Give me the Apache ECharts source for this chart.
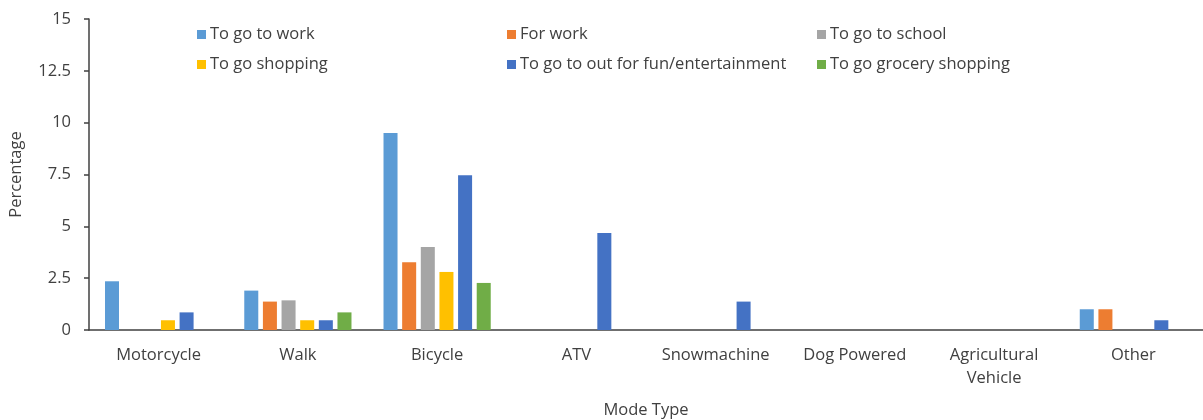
<!DOCTYPE html>
<html><head><meta charset="utf-8">
<script src="https://cdn.jsdelivr.net/npm/echarts@6/dist/echarts.min.js"></script>
<style>html,body{margin:0;padding:0;background:#fff}#c{width:1203px;height:420px}</style>
</head><body><div id="c"></div>
<script>
const categories = ['Motorcycle','Walk','Bicycle','ATV','Snowmachine','Dog Powered','Agricultural\nVehicle','Other'];
const seriesNames = ['To go to work','For work','To go to school','To go shopping','To go to out for fun/entertainment','To go grocery shopping'];
const toGoToWork   = [2.35, 1.9, 9.5, 0, 0, 0, 0, 1.0];
const forWork      = [0, 1.37, 3.27, 0, 0, 0, 0, 1.0];
const toGoToSchool = [0, 1.43, 4.0, 0, 0, 0, 0, 0];
const toGoShopping = [0.47, 0.47, 2.8, 0, 0, 0, 0, 0];
const funEntertain = [0.85, 0.47, 7.46, 4.68, 1.37, 0, 0, 0.47];
const grocery      = [0, 0.85, 2.27, 0, 0, 0, 0, 0];
const yTicks = [0, 2.5, 5, 7.5, 10, 12.5, 15];

const values = [toGoToWork, forWork, toGoToSchool, toGoShopping, funEntertain, grocery];
const colors = ['#5B9BD5','#ED7D31','#A5A5A5','#FFC000','#4472C4','#70AD47'];
const font = "'Open Sans','Noto Sans',sans-serif";
const legendPos = [[197,26],[507,26],[817,26],[197,56],[507,56],[817,56]];
const fs = 16.5;

const chart = echarts.init(document.getElementById('c'));
chart.setOption({
  animation: false,
  textStyle: {fontFamily: font},
  color: colors,
  legend: seriesNames.map((n,i)=>({
    data:[n], left: legendPos[i][0], top: legendPos[i][1], padding: 0,
    itemWidth: 9, itemHeight: 9, itemGap: 4, icon: 'rect',
    textStyle: {fontFamily: font, fontSize: fs, color: '#404040', padding:[0,0,0,-1]}
  })),
  grid: {left: 89, right: 0, top: 19, bottom: 90, outerBoundsMode: 'none'},
  xAxis: {
    type: 'category', data: categories,
    name: 'Mode Type', nameLocation: 'middle', nameGap: 72,
    nameTextStyle: {fontFamily: font, fontSize: fs, color: '#404040'},
    axisLine: {lineStyle: {color: '#404040', width: 1.5}},
    axisTick: {show: false},
    axisLabel: {fontFamily: font, fontSize: fs, color: '#404040', margin: 14, lineHeight: 23, interval: 0}
  },
  yAxis: {
    type: 'value', min: yTicks[0], max: yTicks[yTicks.length-1], interval: 2.5,
    name: 'Percentage', nameLocation: 'middle', nameGap: 64, nameRotate: 90,
    nameTextStyle: {fontFamily: font, fontSize: fs, color: '#404040'},
    axisLine: {show: true, lineStyle: {color: '#404040', width: 1.5}},
    axisTick: {show: true, length: 5, lineStyle: {color: '#404040', width: 1.5}},
    splitLine: {show: false},
    axisLabel: {fontFamily: font, fontSize: fs, color: '#404040', margin: 18}
  },
  series: seriesNames.map((n,i)=>({
    name: n, type: 'bar', data: values[i],
    barGap: '33%', barCategoryGap: '23%',
    itemStyle: {color: colors[i]}
  }))
});
</script></body></html>
